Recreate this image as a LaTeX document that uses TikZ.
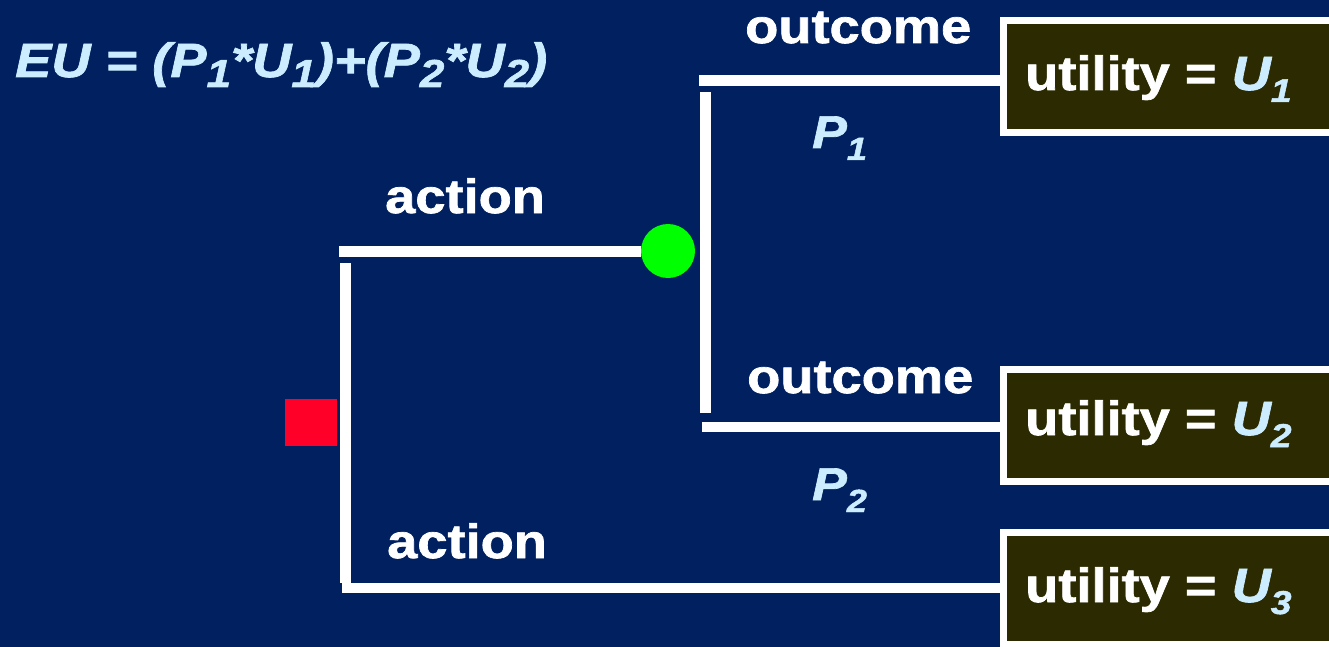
\documentclass[tikz,border=0pt]{standalone}
\usepackage{fontspec}
\setmainfont{Liberation Sans}[FakeStretch=1.13, BoldFeatures={FakeBold=1.5}, BoldItalicFeatures={FakeBold=1.5}]
\definecolor{bgblue}{RGB}{0,32,96}
\definecolor{ltblue}{RGB}{204,236,255}
\definecolor{boxfill}{RGB}{43,42,0}
\definecolor{decred}{RGB}{255,0,41}
\definecolor{chgreen}{RGB}{0,255,0}
\newcommand\lsub[3]{\raisebox{-#2pt}{\fontsize{#1}{#1}\selectfont #3}}
\tikzset{
  branch/.style={draw=white, line width=10.5pt, line cap=butt},
  lbl/.style={anchor=base west, inner sep=0pt, text=white, font=\fontsize{48}{48}\selectfont\bfseries},
  prob/.style={anchor=base west, inner sep=0pt, text=ltblue, font=\fontsize{46}{46}\selectfont\bfseries\itshape},
  ubox/.style={draw=white, fill=boxfill, line width=7pt, rectangle, anchor=north west, minimum width=360pt, minimum height=112pt, inner sep=0pt},
  utext/.style={anchor=base west, inner sep=0pt, text=white, font=\fontsize{48}{48}\selectfont\bfseries},
  decision/.style={fill=decred, rectangle, minimum width=52pt, minimum height=47pt, inner sep=0pt},
  chance/.style={fill=chgreen, circle, minimum size=54pt, inner sep=0pt},
}
\begin{document}
\begin{tikzpicture}[x=1pt, y=-1pt]
\useasboundingbox (0,0) rectangle (1329,647);
\fill[bgblue] (0,0) rectangle (1329,647);
\clip (0,0) rectangle (1329,647);

% formula
\node[anchor=base west, inner sep=0pt, text=ltblue, font=\fontsize{48}{48}\selectfont\bfseries\itshape] (eu) at (15,77)
  {EU = (P\lsub{39}{10}{1}*U\lsub{39}{10}{1})+(P\lsub{39}{10}{2}*U\lsub{39}{10}{2})};

% decision and chance nodes
\node[decision] (dec) at (311,422.5) {};
\node[chance] (ch) at (668,251) {};

% utility boxes
\node[ubox] (u1) at (1000,17) {};
\node[ubox] (u2) at (1000,366) {};
\node[ubox] (u3) at (1000,529) {};
\node[utext] (u1t) at (1025,90) {utility = \textcolor{ltblue}{\itshape U\lsub{33}{12}{1}}};
\node[utext] (u2t) at (1025,435) {utility = \textcolor{ltblue}{\itshape U\lsub{33}{12}{2}}};
\node[utext] (u3t) at (1025,602) {utility = \textcolor{ltblue}{\itshape U\lsub{33}{12}{3}}};

% branch coordinates
\coordinate (a1s) at (339,251.5);
\coordinate (lvt) at (345.5,263);
\coordinate (lvb) at (345.5,583);
\coordinate (a2s) at (342,588);
\coordinate (o1s) at (699,80.5);
\coordinate (rvt) at (705.5,92);
\coordinate (rvb) at (705.5,413);
\coordinate (o2s) at (702,427);

% branches
\draw[branch] (a1s) -- (a1s -| ch.west);
\draw[branch] (lvt) -- (lvb);
\draw[branch] (a2s) -- (a2s -| u3.west);
\draw[branch] (o1s) -- (o1s -| u1.west);
\draw[branch] (rvt) -- (rvb);
\draw[branch] (o2s) -- (o2s -| u2.west);

% labels
\node[lbl] (act1) at (385,213) {action};
\node[lbl] (act2) at (387,558) {action};
\node[lbl] (out1) at (745,43) {outcome};
\node[lbl] (out2) at (747,393) {outcome};
\node[prob] (p1) at (812,148) {P\lsub{32}{12}{1}};
\node[prob] (p2) at (812,500) {P\lsub{32}{12}{2}};
\end{tikzpicture}
\end{document}
